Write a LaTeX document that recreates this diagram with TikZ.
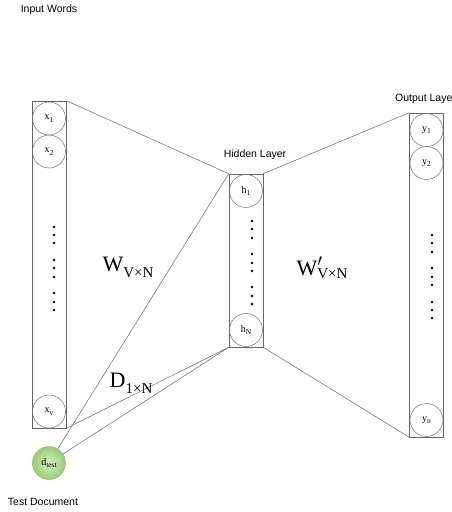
\documentclass[tikz,border=0pt]{standalone}
\usepackage{fontspec}
\setmainfont{Liberation Serif}
\newfontfamily\labelfont{Liberation Sans}
\definecolor{dtin}{RGB}{214,238,200}
\definecolor{dtout}{RGB}{150,205,115}
\definecolor{dtedge}{RGB}{140,190,110}
\newcommand{\bigsub}[2]{{\fontsize{22}{22}\selectfont #1\raisebox{-0.28em}{\fontsize{15}{15}\selectfont #2}}}
\newcommand{\unitsub}[2]{#1\raisebox{-0.25em}{\fontsize{7.5}{7.5}\selectfont #2}}
\begin{document}
\begin{tikzpicture}[x=1pt,y=-1pt,
  layerbox/.style={draw=black!60, line width=0.6pt, minimum width=34pt, inner sep=0pt},
  unit/.style={circle, draw=black!55, line width=0.5pt, minimum size=33pt, inner sep=0pt,
               font=\fontsize{10}{10}\selectfont},
  conn/.style={draw=black!60, line width=0.5pt},
  lbl/.style={font=\labelfont\fontsize{10.5}{12}\selectfont, inner sep=0pt},
  dotm/.style={fill=black, draw=none}]
\useasboundingbox (0,0) rectangle (451,512);

% layer boxes
\node[layerbox, minimum height=327pt] (inbox) at (49,264.5) {};
\node[layerbox, minimum height=173pt] (hidbox) at (246,260.5) {};
\node[layerbox, minimum height=324pt] (outbox) at (426.5,275) {};

% units
\node[unit] (x1) at (49,118.5) {\unitsub{x}{1}};
\node[unit] (x2) at (49,151.5) {\unitsub{x}{2}};
\node[unit] (xv) at (49,411.5) {\unitsub{x}{v}};
\node[unit] (h1) at (246,191) {\unitsub{h}{1}};
\node[unit] (hN) at (246,330) {\unitsub{h}{N}};
\node[unit] (y1) at (426.5,130) {\unitsub{y}{1}};
\node[unit] (y2) at (426.5,163) {\unitsub{y}{2}};
\node[unit] (yn) at (426.5,420) {\unitsub{y}{n}};
\node[unit, draw=dtedge, inner color=dtin, outer color=dtout]
  (dtest) at (49,463) {\unitsub{d}{test}};

% dots
\foreach \yy in {227,235,243,260,268,277,293,302,310}
  \fill[dotm] (54,\yy) circle (1.4pt);
\foreach \yy in {221,229,238,254,263,271,287,296,304}
  \fill[dotm] (252,\yy) circle (1.4pt);
\foreach \yy in {235,243,252,268,277,285,302,310,318}
  \fill[dotm] (432,\yy) circle (1.4pt);

% connectors
\draw[conn] (inbox.north east) -- (hidbox.north west);
\draw[conn] (inbox.south east) -- (hidbox.south west);
\draw[conn] (dtest) -- (hidbox.north west);
\draw[conn] (dtest) -- (hidbox.south west);
\draw[conn] (hidbox.north east) -- (outbox.north west);
\draw[conn] (hidbox.south east) -- (outbox.south west);

% labels
\node[lbl] (inlbl) at (49,10) {Input Words};
\node[lbl] (hidlbl) at (255,155) {Hidden Layer};
\node[lbl, anchor=west] (outlbl) at (395,99) {Output Laye};
\node[lbl] (testlbl) at (43,502) {Test Document};

\node (wlbl) at (128,267) {\bigsub{W}{V×N}};
\node (wplbl) at (322,268) {{\fontsize{22}{22}\selectfont W\makebox[0pt][l]{\raisebox{0.42em}{\fontsize{16}{16}\selectfont$\prime$}}}\raisebox{-0.28em}{\fontsize{15}{15}\selectfont V×N}};
\node (dlbl) at (131,383) {\bigsub{D}{1×N}};
\end{tikzpicture}
\end{document}
